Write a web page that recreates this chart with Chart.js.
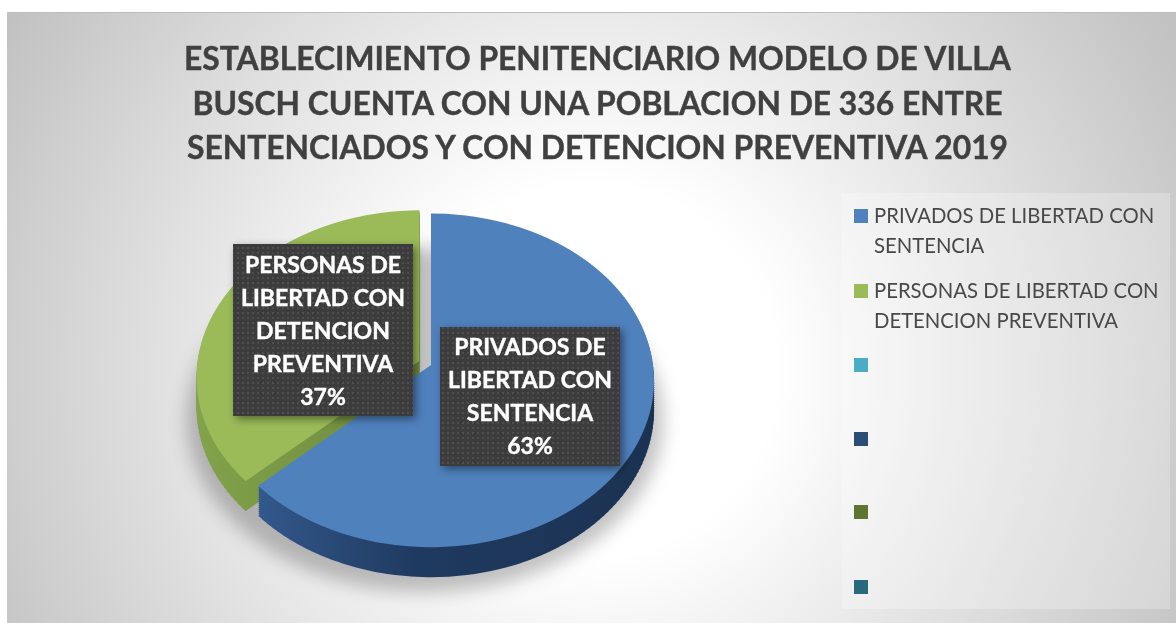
<!DOCTYPE html>
<html>
<head>
<meta charset="utf-8">
<script src="https://cdn.jsdelivr.net/npm/chart.js@4"></script>
<style>
  html, body { margin: 0; padding: 0; background: #fff; overflow: hidden; }
  #panel {
    position: absolute; left: 7px; top: 12px; width: 1169px; height: 611px;
    border-top: 1px solid #bdbdbd; box-sizing: border-box;
    background: radial-gradient(circle 690px at 583px 358px, #fff 0%, #fff 27%, #c1c1c1 99%);
  }
  #myChart { position: absolute; left: 0; top: 0; }
  #title {
    position: absolute; left: 100px; top: 36px; width: 995px; text-align: center;
    font: bold 31.8px/44.5px Lato, sans-serif; color: #404040;
    -webkit-text-stroke: 0.4px #404040;
  }
  #legend {
    position: absolute; left: 842px; top: 193px; width: 328px; height: 416px;
    background: rgba(255, 255, 255, 0.25);
    font: 20.3px/29.5px Lato, sans-serif; color: #484848;
  }
  #legend .item { position: absolute; left: 12px; width: 312px; }
  #legend .box { position: absolute; left: 0; top: 16px; width: 14px; height: 14px; }
  #legend .txt { position: absolute; left: 20px; top: 8px; width: 300px; }
</style>
</head>
<body>
<div id="panel"></div>
<canvas id="myChart" width="1176" height="623"></canvas>
<div id="title">ESTABLECIMIENTO PENITENCIARIO MODELO DE VILLA<br>BUSCH CUENTA CON UNA POBLACION DE 336 ENTRE<br>SENTENCIADOS Y CON DETENCION PREVENTIVA 2019</div>
<div id="legend"></div>
<script>
const categories = [
  'PRIVADOS DE LIBERTAD CON SENTENCIA',
  'PERSONAS DE LIBERTAD CON DETENCION PREVENTIVA',
  '', '', '', ''
];
const seriesValues = [63, 37, 0, 0, 0, 0];
const sliceColors = ['#4f81bd', '#9bbb59', '#4bacc6', '#2c4d75', '#5f7530', '#276a7c'];
const sliceOffsets = [0, 52, 0, 0, 0, 0];

// fake 3D look: projective squash, canvas only does affine so it is drawn in thin rows
const tilt = 0.745;
const persp = 0.000415;
const depth = 30;
const labelBoxes = [
  { x: 440, y: 327, w: 180, h: 139, firstLine: 348 },
  { x: 233, y: 244, w: 180, h: 172, firstLine: 266 }
];

function wrapText(ctx, text, maxWidth) {
  const lines = [];
  let line = '';
  text.split(' ').forEach(word => {
    const test = line ? line + ' ' + word : word;
    if (line && ctx.measureText(test).width > maxWidth) {
      lines.push(line);
      line = word;
    } else {
      line = test;
    }
  });
  lines.push(line);
  return lines;
}

function dotPattern(ctx) {
  const c = document.createElement('canvas');
  c.width = 5;
  c.height = 5;
  const p = c.getContext('2d');
  p.fillStyle = '#3c3c3c';
  p.fillRect(0, 0, 5, 5);
  p.fillStyle = '#4e4e4e';
  p.fillRect(2, 2, 2, 2);
  return ctx.createPattern(c, 'repeat');
}

function drawSquashed(chart, arc, fill, dy, step) {
  const ctx = chart.ctx;
  const cx = arc.x;
  const cy = Math.round(arc.y);
  const ghost = Object.create(arc);
  ghost.options = { ...arc.options, backgroundColor: fill };
  // the arc element grows the radius with its offset, take that back
  const fix = 1 - Math.sin(Math.min(Math.PI, arc.circumference));
  ghost.outerRadius = arc.outerRadius - (arc.options.offset / 4) * fix;

  const toSource = yd => yd / (tilt + persp * yd);
  for (let a = -180; a < 200; a += step) {
    const b = a + step;
    const ya = toSource(a);
    const yb = toSource(b);
    const w = 1 - persp * (ya + yb) / 2;
    ctx.save();
    ctx.beginPath();
    ctx.rect(0, cy + dy + a, chart.width, step);
    ctx.clip();
    ctx.translate(cx, cy + dy + a);
    ctx.scale(1 / w, (b - a) / (yb - ya));
    ctx.translate(-cx, -cy - ya);
    ghost.draw(ctx);
    ctx.restore();
  }
}

const pie3d = {
  id: 'pie3d',
  beforeDatasetsDraw(chart) {
    const ctx = chart.ctx;
    const arcs = chart.getDatasetMeta(0).data;

    // soft shadow under the pie
    ctx.save();
    ctx.filter = 'blur(9px)';
    ctx.fillStyle = 'rgba(0,0,0,0.24)';
    ctx.beginPath();
    ctx.ellipse(425, 420, 238, 172, 0, 0, Math.PI * 2);
    ctx.fill();
    ctx.restore();

    const greenWall = ctx.createLinearGradient(200, 0, 420, 0);
    greenWall.addColorStop(0, '#84a44c');
    greenWall.addColorStop(1, '#6d8a3e');
    const blueWall = ctx.createLinearGradient(260, 0, 655, 0);
    blueWall.addColorStop(0, '#345a8e');
    blueWall.addColorStop(0.4, '#1f3a60');
    blueWall.addColorStop(1, '#1b3150');
    const walls = [blueWall, greenWall];

    // green first, blue sits on top of its cut face
    for (let i = arcs.length - 1; i >= 0; i--) {
      if (!seriesValues[i]) continue;
      for (let d = depth; d > 0; d -= 2) {
        drawSquashed(chart, arcs[i], walls[i], d, 4);
      }
      drawSquashed(chart, arcs[i], sliceColors[i], 0, 2);
    }
    return false;
  },
  afterDraw(chart) {
    const ctx = chart.ctx;
    const total = seriesValues.reduce((a, b) => a + b, 0);
    labelBoxes.forEach((box, i) => {
      ctx.save();
      ctx.shadowColor = 'rgba(0,0,0,0.45)';
      ctx.shadowBlur = 8;
      ctx.shadowOffsetX = 3;
      ctx.shadowOffsetY = 3;
      ctx.fillStyle = dotPattern(ctx);
      ctx.fillRect(box.x, box.y, box.w, box.h);
      ctx.restore();

      ctx.save();
      ctx.font = 'bold 23px Lato, sans-serif';
      ctx.fillStyle = '#fff';
      ctx.strokeStyle = '#fff';
      ctx.lineWidth = 0.4;
      ctx.textAlign = 'center';
      ctx.textBaseline = 'middle';
      const lines = wrapText(ctx, categories[i], 172);
      lines.push(Math.round(seriesValues[i] / total * 100) + '%');
      lines.forEach((line, n) => {
        ctx.fillText(line, box.x + box.w / 2, box.firstLine + n * 33);
        ctx.strokeText(line, box.x + box.w / 2, box.firstLine + n * 33);
      });
      ctx.restore();
    });
  }
};

new Chart(document.getElementById('myChart'), {
  type: 'pie',
  data: {
    labels: categories,
    datasets: [{
      data: seriesValues,
      backgroundColor: sliceColors,
      offset: sliceOffsets,
      borderWidth: 0,
      radius: 222
    }]
  },
  options: {
    responsive: false,
    animation: false,
    layout: { padding: { left: 0, right: 314, top: 107, bottom: 0 } },
    plugins: { legend: { display: false }, tooltip: { enabled: false } }
  },
  plugins: [pie3d]
});

// legend is plain html because the labels have to wrap
const legendEl = document.getElementById('legend');
const legendTops = [0, 75, 149, 223, 296, 371];
categories.forEach((name, i) => {
  const item = document.createElement('div');
  item.className = 'item';
  item.style.top = legendTops[i] + 'px';
  item.innerHTML = '<div class="box" style="background:' + sliceColors[i] + '"></div><div class="txt">' + name + '</div>';
  legendEl.appendChild(item);
});
</script>
</body>
</html>
